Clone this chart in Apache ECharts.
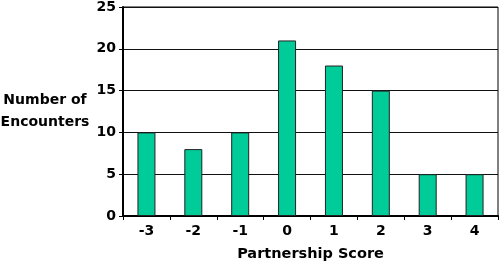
<!DOCTYPE html>
<html><head><meta charset="utf-8">
<script src="https://cdn.jsdelivr.net/npm/echarts@6/dist/echarts.min.js"></script>
<style>html,body{margin:0;padding:0;background:#fff}#c{width:499px;height:262px}</style>
</head><body><div id="c"></div>
<script>
const categories = ['-3','-2','-1','0','1','2','3','4'];
const encounters = [10, 8, 10, 21, 18, 15, 5, 5];
const yTicks = [0, 5, 10, 15, 20, 25];
const xTitle = 'Partnership Score';
const yTitle = 'Number of\nEncounters';

const font = '"DejaVu Sans", Verdana, sans-serif';
const chart = echarts.init(document.getElementById('c'));
chart.setOption({
  animation: false,
  grid: {left: 123, right: 1, top: 7, bottom: 46, show: true, borderColor: '#000', borderWidth: 1, containLabel: false, outerBoundsMode: 'none'},
  xAxis: {
    type: 'category', data: categories,
    name: xTitle, nameLocation: 'middle', nameGap: 31,
    nameTextStyle: {fontFamily: font, fontWeight: 'bold', fontSize: 14.5, color: '#000'},
    axisLine: {lineStyle: {color: '#000', width: 2}},
    axisTick: {show: true, length: 4, lineStyle: {color: '#000'}},
    axisLabel: {fontFamily: font, fontWeight: 'bold', fontSize: 14, color: '#000', margin: 8}
  },
  yAxis: {
    type: 'value', min: yTicks[0], max: yTicks[yTicks.length-1], interval: 5,
    axisLine: {show: true, lineStyle: {color: '#000', width: 2}},
    axisTick: {show: true, length: 4, lineStyle: {color: '#000'}},
    axisLabel: {fontFamily: font, fontWeight: 'bold', fontSize: 14, color: '#000', margin: 7},
    splitLine: {lineStyle: {color: '#111', width: 1}}
  },
  graphic: [{
    type: 'text', x: 45, y: 111,
    style: {text: yTitle, fontFamily: font, fontWeight: 'bold', fontSize: 14, fill: '#000', textAlign: 'center', textVerticalAlign: 'middle', lineHeight: 22},
  }],
  series: [{
    type: 'bar', data: encounters, barWidth: 18,
    itemStyle: {color: '#00CC99', borderColor: '#222', borderWidth: 1}
  }]
});
</script></body></html>
